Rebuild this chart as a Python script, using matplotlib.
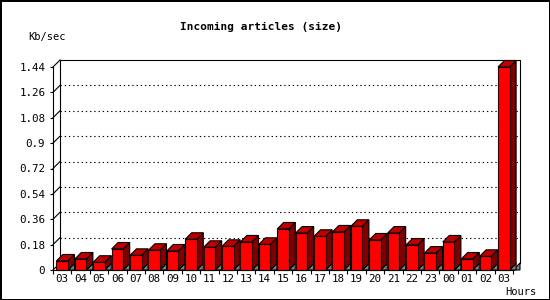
import matplotlib.pyplot as plt
from matplotlib.patches import Polygon, Rectangle

hours = ["03", "04", "05", "06", "07", "08", "09", "10", "11", "12", "13",
         "14", "15", "16", "17", "18", "19", "20", "21", "22", "23", "00",
         "01", "02", "03"]
kb_sec = [0.064, 0.078, 0.055, 0.149, 0.104, 0.140, 0.135, 0.218, 0.161,
          0.168, 0.199, 0.182, 0.291, 0.262, 0.239, 0.270, 0.310, 0.213,
          0.262, 0.177, 0.120, 0.199, 0.078, 0.097, 1.44]
yticks = [0, 0.18, 0.36, 0.54, 0.72, 0.9, 1.08, 1.26, 1.44]
ytick_labels = ["0", "0.18", "0.36", "0.54", "0.72", "0.9", "1.08", "1.26", "1.44"]

W, H = 550, 300
AX_L, AX_B, AX_W, AX_H = 53, 30, 460, 203   # front plane, pixels
WALL_DEPTH = 7
BAR_DEPTH = 6.5
FONT = "DejaVu Sans Mono"


def main():
    fig = plt.figure(figsize=(W / 100, H / 100), dpi=100)
    fig.patch.set_facecolor("white")
    fig.patch.set_edgecolor("black")
    fig.patch.set_linewidth(2)

    ax = fig.add_axes([AX_L / W, AX_B / H, AX_W / W, AX_H / H])
    n = len(hours)
    x0, x1 = -0.5, n - 0.5
    ymax = yticks[-1]
    ax.set_xlim(x0, x1)
    ax.set_ylim(0, ymax)
    ax.patch.set_alpha(0)

    # pixel -> data unit conversion for the 3d offsets
    ux = (x1 - x0) / AX_W
    uy = ymax / AX_H
    wdx, wdy = WALL_DEPTH * ux, WALL_DEPTH * uy
    bdx, bdy = BAR_DEPTH * ux, BAR_DEPTH * uy

    lw = 0.8
    # back wall
    ax.plot([x0 + wdx, x0 + wdx, x1 + wdx, x1 + wdx],
            [wdy, ymax + wdy, ymax + wdy, wdy],
            color="black", lw=lw, clip_on=False, zorder=1)
    for t in yticks:
        ax.plot([x0, x0 + wdx], [t, t + wdy], color="black", lw=lw,
                clip_on=False, zorder=1)
        if 0 < t < ymax:
            ax.plot([x0 + wdx, x1 + wdx], [t + wdy, t + wdy], color="black",
                    lw=0.8, dashes=(1.2, 2.6), clip_on=False, zorder=1)
    # floor corner on the right
    ax.add_patch(Polygon([(x1, 0), (x1 + wdx, wdy), (x1 + wdx, 0)],
                         closed=True, fc="#808080", ec="black", lw=lw,
                         clip_on=False, zorder=2))

    bw = 0.63
    for i, v in enumerate(kb_sec):
        l, r = i - bw / 2, i + bw / 2
        z = 3 + i * 0.01
        ax.add_patch(Polygon([(r, 0), (r + bdx, bdy), (r + bdx, 0)],
                             closed=True, fc="#808080", ec="black", lw=lw,
                             clip_on=False, zorder=z))
        ax.add_patch(Polygon([(r, 0), (r, v), (r + bdx, v + bdy), (r + bdx, bdy)],
                             closed=True, fc="#800000", ec="black", lw=lw,
                             clip_on=False, zorder=z))
        ax.add_patch(Polygon([(l, v), (l + bdx, v + bdy), (r + bdx, v + bdy), (r, v)],
                             closed=True, fc="#c00000", ec="black", lw=lw,
                             clip_on=False, zorder=z))
        ax.add_patch(Rectangle((l, 0), bw, v, fc="#ff0000", ec="black", lw=lw,
                               clip_on=False, zorder=z))

    for s in ["top", "right"]:
        ax.spines[s].set_visible(False)
    for s in ["left", "bottom"]:
        ax.spines[s].set_linewidth(lw)
        ax.spines[s].set_zorder(10)

    ax.set_yticks(yticks)
    ax.set_yticklabels(ytick_labels, fontfamily=FONT, fontsize=7.8)
    ax.tick_params(axis="y", length=2.4, width=lw, pad=3.2)

    ax.set_xticks(range(n))
    ax.set_xticklabels(hours, fontfamily=FONT, fontsize=7.8)
    ax.set_xticks([i + 0.5 for i in range(-1, n)], minor=True)
    ax.tick_params(axis="x", which="major", length=0, pad=3.0)
    ax.tick_params(axis="x", which="minor", length=3.2, width=lw)

    fig.text(261 / W, 1 - 27 / H, "Incoming articles (size)", ha="center",
             va="center", fontfamily=FONT, fontweight="bold", fontsize=8)
    fig.text(28 / W, 1 - 37 / H, "Kb/sec", ha="left", va="center",
             fontfamily=FONT, fontsize=7.5)
    fig.text(505 / W, 1 - 292 / H, "Hours", ha="left", va="center",
             fontfamily=FONT, fontsize=7.5)

    fig.savefig("out.png", dpi=100)
    plt.close(fig)


if __name__ == "__main__":
    main()
